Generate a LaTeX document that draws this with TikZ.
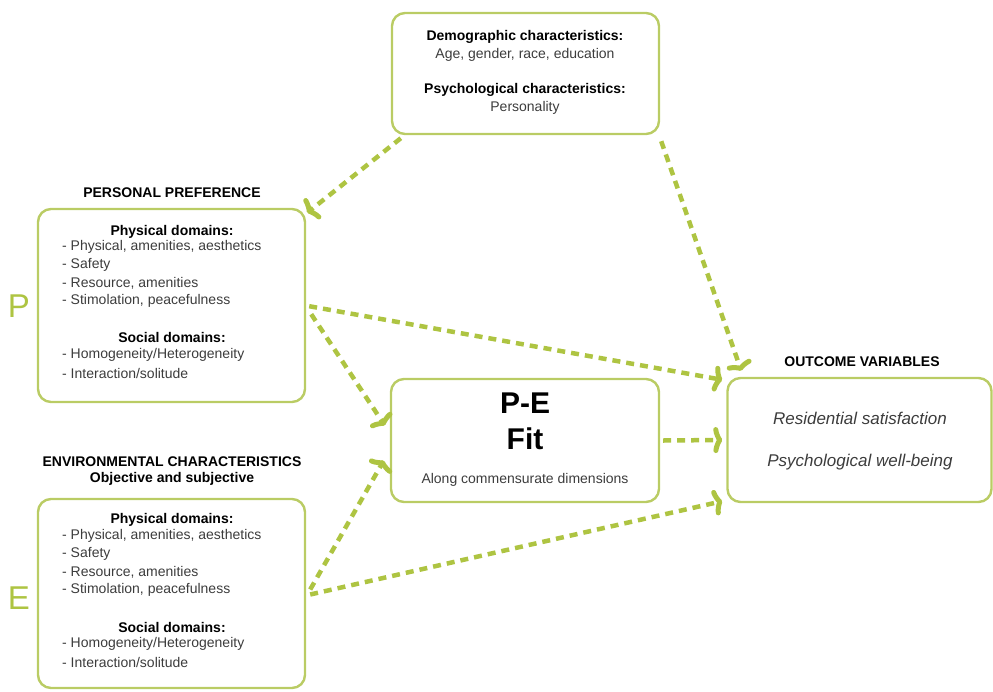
\documentclass[tikz,border=0pt]{standalone}
\usepackage{fontspec}
\setmainfont{Liberation Sans}
\usetikzlibrary{arrows.meta,calc}
\definecolor{boxgreen}{RGB}{186,204,100}
\definecolor{arrgreen}{RGB}{174,196,66}
\definecolor{txtgray}{RGB}{60,60,60}
\tikzset{
  panel/.style={draw=boxgreen, line width=2.4pt, rounded corners=13pt, inner sep=0pt},
  flow/.style={draw=arrgreen, line width=4.5pt, dash pattern=on 8pt off 6pt,
    -{Classical TikZ Rightarrow[length=9pt,width=26pt,line width=5pt]}},
  head/.style={font=\fontsize{14}{17}\selectfont\bfseries, text=black, inner sep=0pt},
  item/.style={font=\fontsize{14}{17}\selectfont, text=txtgray, inner sep=0pt, anchor=west},
  bigletter/.style={font=\fontsize{33}{38}\selectfont, text=arrgreen, inner sep=0pt},
  outtxt/.style={font=\fontsize{17}{20}\selectfont\itshape, text=txtgray, inner sep=0pt}
}
\begin{document}
\begin{tikzpicture}[x=1pt,y=-1pt]
\useasboundingbox (0,0) rectangle (993,691);
% boxes
\node[panel, minimum width=267pt, minimum height=121pt] (demo) at (525.5,73.5) {};
\node[panel, minimum width=267pt, minimum height=193pt] (pbox) at (171.5,305.5) {};
\node[panel, minimum width=267pt, minimum height=189pt] (ebox) at (171.5,593.5) {};
\node[panel, minimum width=268pt, minimum height=123pt] (fit) at (525,440.5) {};
\node[panel, minimum width=264pt, minimum height=124pt] (out) at (859.5,440) {};
% demo text
\node[head] (d1) at (525,37) {Demographic characteristics:};
\node[item, anchor=center] (d2) at (525,55) {Age, gender, race, education};
\node[head] (d3) at (525,90) {Psychological characteristics:};
\node[item, anchor=center] (d4) at (525,108) {Personality};
% P box
\node[head] (ph) at (172,193) {PERSONAL PREFERENCE};
\node[head] (p1) at (172,232) {Physical domains:};
\node[item] (p2) at (62,247) {- Physical, amenities, aesthetics};
\node[item] (p3) at (62,265) {- Safety};
\node[item] (p4) at (62,283) {- Resource, amenities};
\node[item] (p5) at (62,301) {- Stimolation, peacefulness};
\node[head] (p6) at (172,337) {Social domains:};
\node[item] (p7) at (62,355) {- Homogeneity/Heterogeneity};
\node[item] (p8) at (62,373) {- Interaction/solitude};
\node[bigletter] (P) at (19,306) {P};
% E box
\node[head] (eh1) at (172,462) {ENVIRONMENTAL CHARACTERISTICS};
\node[head] (eh2) at (172,479) {Objective and subjective};
\node[head] (e1) at (172,520) {Physical domains:};
\node[item] (e2) at (62,536) {- Physical, amenities, aesthetics};
\node[item] (e3) at (62,554) {- Safety};
\node[item] (e4) at (62,572) {- Resource, amenities};
\node[item] (e5) at (62,590) {- Stimolation, peacefulness};
\node[head] (e6) at (172,627) {Social domains:};
\node[item] (e7) at (62,644) {- Homogeneity/Heterogeneity};
\node[item] (e8) at (62,662) {- Interaction/solitude};
\node[bigletter] (E) at (19,598) {E};
% fit box
\node[font=\fontsize{30}{34}\selectfont\bfseries, inner sep=0pt] (f1) at (525,403) {P-E};
\node[font=\fontsize{30}{34}\selectfont\bfseries, inner sep=0pt] (f2) at (525,439) {Fit};
\node[item, anchor=center] (f3) at (525,480) {Along commensurate dimensions};
% outcome
\node[head] (oh) at (862,362) {OUTCOME VARIABLES};
\node[outtxt] (o1) at (860,418) {Residential satisfaction};
\node[outtxt] (o2) at (860,462) {Psychological well-being};
% connectors
\draw[flow] ([xshift=10pt,yshift=-3pt]demo.south west) -- ([xshift=1pt,yshift=-5pt]pbox.north east);
\draw[flow] ([xshift=1pt,yshift=-6pt]demo.south east) -- ([xshift=15pt,yshift=6pt]out.north west);
\draw[flow] ([xshift=3pt,yshift=97pt]pbox.south east) -- ([xshift=-4pt,yshift=-3pt]out.north west);
\draw[flow] ([xshift=5pt,yshift=89pt]pbox.south east) -- ([xshift=-5pt,yshift=15pt]fit.west);
\draw[flow] ([xshift=4pt,yshift=4pt]ebox.east) -- ([xshift=-6pt,yshift=-20pt]fit.west);
\draw[flow] ([xshift=4pt,yshift=-1pt]ebox.east) -- ([xshift=-4pt,yshift=2pt]out.south west);
\draw[flow] ([xshift=3pt]fit.east) -- ([xshift=-4pt]out.west);
\end{tikzpicture}
\end{document}
